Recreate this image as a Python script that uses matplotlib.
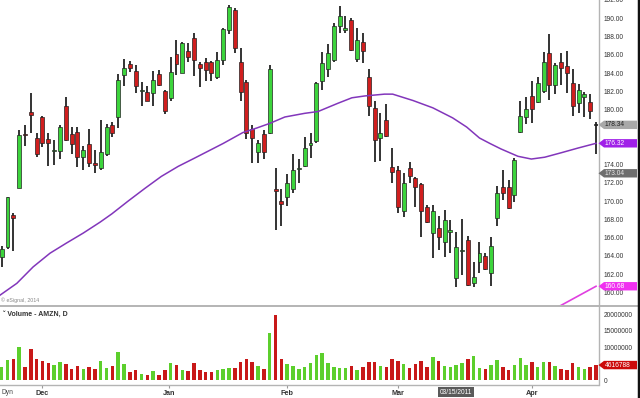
import matplotlib
matplotlib.use('Agg')
import matplotlib.pyplot as plt
from matplotlib.patches import Polygon
from matplotlib.lines import Line2D
import numpy as np

plt.rcParams['font.family'] = ['Liberation Sans', 'DejaVu Sans']

# ---------------- data ----------------
opens = [163.9,165.0,168.5,171.4,177.3,179.8,176.9,179.2,176.8,175.5,
         175.5,180.4,177.3,177.6,174.8,176.2,174.2,173.6,175.1,178.3,
         179.2,183.8,185.0,184.2,182.0,181.9,181.8,183.9,182.0,181.3,
         186.1,184.0,186.4,187.8,185.0,185.2,185.2,183.6,185.4,188.7,
         190.9,185.2,183.0,177.9,175.4,177.3,177.4,171.3,170.0,170.4,
         171.3,173.5,173.8,176.1,176.6,183.1,184.4,185.4,189.2,188.7,
         189.8,185.5,187.4,183.6,180.2,176.9,178.9,173.7,173.4,168.9,
         173.6,172.5,171.9,169.3,166.5,167.0,165.5,166.6,161.6,164.5,
         165.7,161.0,163.3,164.0,162.1,168.1,171.5,171.5,170.7,177.6,
         179.2,181.5,180.8,182.0,186.2,182.7,185.2,184.8,182.9,180.7,
         181.4,180.8,178.34]
highs = [165.1,170.5,168.7,177.8,178.3,181.8,177.5,179.3,177.4,176.7,
         178.3,181.4,178.1,178.1,176.0,177.9,175.6,178.9,178.4,178.6,
         183.9,185.5,185.3,184.9,183.0,182.6,184.2,184.3,182.2,185.8,
         187.6,187.4,187.3,188.4,185.2,185.7,185.3,186.3,188.9,191.5,
         191.1,186.7,183.2,178.3,176.7,177.8,184.9,173.6,171.3,173.0,
         175.1,174.6,177.0,177.4,183.0,186.3,187.2,189.5,191.3,190.3,
         190.0,188.9,188.4,184.5,181.0,179.6,180.6,175.8,173.8,173.1,
         174.3,172.6,172.0,169.6,169.6,168.4,169.0,167.9,166.6,168.0,
         166.2,163.3,165.5,164.3,166.1,171.7,173.4,172.3,174.7,181.0,
         181.4,183.1,183.6,186.3,188.3,185.1,186.2,186.4,184.4,182.8,
         181.9,181.7,178.6]
lows = [162.8,164.8,164.5,171.4,176.0,177.5,174.8,175.9,173.8,173.9,
        174.6,176.6,175.1,173.7,173.4,173.7,173.1,173.4,174.9,177.0,
        178.0,182.6,184.1,181.8,180.4,180.9,180.4,182.6,179.5,181.0,
        183.8,184.0,185.2,183.7,182.5,183.1,183.1,183.4,184.9,188.3,
        186.2,180.9,176.8,174.2,174.2,174.6,177.3,166.8,167.3,169.5,
        170.9,172.0,173.7,174.7,176.4,182.2,183.6,185.2,188.4,188.4,
        186.4,185.2,185.1,179.3,174.3,174.4,177.0,172.0,168.7,168.3,
        172.0,169.3,166.1,167.6,163.8,164.6,163.9,164.3,160.6,161.9,
        160.7,160.6,162.1,162.5,160.7,167.3,170.1,169.1,169.9,177.5,
        178.4,178.5,180.7,181.8,181.1,181.7,182.7,181.8,179.3,179.6,
        179.2,179.0,175.2]
closes = [164.8,170.4,168.1,177.2,177.2,179.4,175.2,176.4,176.4,175.6,
          178.1,176.7,176.2,174.8,175.6,174.2,173.9,175.4,178.1,177.5,
          183.2,184.6,184.6,182.6,182.1,181.0,183.2,182.7,179.9,184.1,
          185.0,187.3,185.8,185.4,184.6,184.3,184.0,185.4,188.8,191.2,
          186.8,181.9,177.5,176.9,176.4,175.4,184.4,171.1,169.7,172.0,
          173.4,173.6,175.8,176.3,182.9,185.1,186.2,189.2,190.3,188.9,
          186.5,187.6,186.4,180.4,176.7,177.5,177.1,173.2,169.3,172.0,
          172.7,171.5,168.9,167.7,168.9,166.1,167.9,166.8,165.0,164.6,
          160.8,161.7,164.3,162.6,165.1,170.9,170.9,169.2,174.5,179.3,
          180.1,180.1,182.9,185.2,182.7,184.9,184.6,184.0,180.4,182.2,
          181.7,179.9,178.34]
volumes_m = [4.1,6.0,6.4,10.0,4.1,9.6,6.6,5.7,5.2,4.7,
             5.5,4.9,3.4,4.3,3.3,3.9,3.4,5.7,3.8,4.3,
             8.5,4.9,2.4,3.1,2.0,1.7,2.9,1.7,3.1,5.2,
             4.7,3.0,2.9,5.2,3.0,2.6,2.4,3.1,3.5,3.6,
             3.6,5.5,6.5,5.5,4.4,3.4,14.4,19.8,6.5,4.9,
             4.3,3.4,4.1,5.2,7.6,8.2,5.2,4.1,3.8,3.6,
             4.4,3.1,3.9,5.5,5.4,4.4,4.1,6.6,5.7,4.9,
             3.8,4.8,5.9,4.1,7.0,5.9,4.4,3.9,4.7,5.2,
             6.4,7.3,3.8,3.3,4.6,6.2,4.1,3.1,4.7,6.8,
             4.6,5.5,4.1,5.5,5.4,4.4,3.5,3.2,5.2,4.0,
             3.3,4.1,4.616788]

# moving average (purple) read at bar positions
ma_idx = [-0.3, 2.6, 5.4, 8.3, 11.1, 14.0, 16.9, 18.9, 21.7, 24.6, 27.4, 30.3, 33.1,
          38.0, 41.4, 43.8, 46.0, 48.6, 52.0, 54.3, 57.7, 60.1, 62.3, 65.7, 67.1,
          70.6, 74.0, 77.4, 79.8, 82.0, 83.8, 85.7, 88.6, 90.9, 93.2, 96.1, 98.9, 102]
ma_val = [159.7, 161.0, 162.8, 164.3, 165.4, 166.5, 167.7, 168.6, 170.0, 171.4, 172.7, 173.8, 174.7,
          176.3, 177.5, 178.0, 178.5, 179.2, 179.6, 179.8, 180.7, 181.3, 181.5, 181.7, 181.7,
          181.0, 180.2, 179.1, 178.1, 176.9, 176.3, 175.7, 174.9, 174.6, 174.8, 175.3, 175.8, 176.32]
# second (magenta) average, only visible bottom right
ma2_idx = [92, 102]
ma2_val = [157.2, 160.68]

month_labels = ['Dec', 'Jan', 'Feb', 'Mar', 'Apr']
month_idx = [7, 28.7, 49, 68, 91]
price_ticks = [160, 162, 164, 166, 168, 170, 172, 174, 180, 182, 184, 186, 188, 190, 192]
vol_ticks = [0, 10000000, 15000000, 20000000]

last_price = 178.34
ma_last = 176.32
ref_level = 173.04
ma2_last = 160.68
last_vol = 4616788
cross_idx = 78
cross_label = '03/15/2011'

# ---------------- figure ----------------
W, H = 640, 398
fig = plt.figure(figsize=(W / 100, H / 100), dpi=100)
fig.patch.set_facecolor('white')
ax = fig.add_axes([0, 1 - 306 / H, 598 / W, 306 / H])
axv = fig.add_axes([0, 1 - 385 / H, 598 / W, (385 - 307) / H])

o = np.array(opens); hi = np.array(highs); lo = np.array(lows); c = np.array(closes)
x = np.arange(len(o))
GREEN = '#3cd43c'
RED = '#d01e1e'
up = c > o
doji = np.isclose(c, o)
body_col = np.where(doji, '#111111', np.where(up, GREEN, RED))

ax.vlines(x, lo, hi, color='#111111', lw=1.2, zorder=2)
bottoms = np.minimum(o, c)
heights = np.maximum(np.abs(c - o), 0.12)
ax.bar(x, heights, 0.68, bottom=bottoms, color=body_col, edgecolor='#222222',
       linewidth=0.5, zorder=3)

ax.plot(ma_idx, ma_val, color='#8236bb', lw=1.1, zorder=4)
ax.plot(ma2_idx, ma2_val, color='#e040e0', lw=1.2, zorder=4)

xlim = (-0.29, 102.34)
ax.set_xlim(*xlim)
ax.set_ylim(158.52, 192.0)
ax.set_xticks([])
ax.yaxis.tick_right()
ax.set_yticks(price_ticks)
ax.set_yticklabels([f'{t:.2f}' for t in price_ticks])
ax.tick_params(axis='y', length=0, pad=4, labelsize=4.8, labelcolor='#333333')
for s in ax.spines.values():
    s.set_visible(False)

vcol = np.where(up, '#5ccf2c', '#c81818')
axv.bar(x, np.array(volumes_m) * 1e6, 0.6, color=vcol, zorder=2)
axv.set_xlim(*xlim)
axv.set_ylim(-1.42e6, 22.2e6)
axv.yaxis.tick_right()
axv.set_yticks(vol_ticks)
axv.set_yticklabels([f'{t:d}' for t in vol_ticks])
axv.tick_params(axis='y', length=0, pad=4, labelsize=4.8, labelcolor='#333333')
axv.set_xticks(month_idx)
axv.set_xticklabels(month_labels)
axv.tick_params(axis='x', length=2, color='#999999', pad=1.5, labelsize=5.2,
                labelcolor='#333333')
for lab in axv.get_xticklabels():
    lab.set_fontweight('bold')
for s in axv.spines.values():
    s.set_visible(False)

# frame lines
def fline(x0, y0, x1, y1, color, lw):
    fig.add_artist(Line2D([x0 / W, x1 / W], [1 - y0 / H, 1 - y1 / H], color=color, lw=lw,
                          transform=fig.transFigure, zorder=3))

fline(0, 306, W, 306, '#b4b4b4', 1.4)
fline(0, 385, 598, 385, '#b4b4b4', 1.0)
fline(598.5, 0, 598.5, 385, '#b4b4b4', 1.0)
fline(638.5, 0, 638.5, H, '#111111', 2.5)

# value tags
def tag(axis, value, text, fc, tc):
    ypix = axis.transData.transform((0, value))[1]
    yf = ypix / (H)
    h = 4.2 / H
    x0, x1, x2 = 598.5 / W, 604 / W, 637 / W
    poly = Polygon([[x0, yf], [x1, yf + h], [x2, yf + h], [x2, yf - h], [x1, yf - h]],
                   closed=True, transform=fig.transFigure, fc=fc, ec='none', zorder=5)
    fig.add_artist(poly)
    fig.text(605 / W, yf, text, ha='left', va='center', fontsize=4.8, color=tc, zorder=6)

tag(ax, last_price, f'{last_price:.2f}', '#a8a8a8', '#222222')
tag(ax, ma_last, f'{ma_last:.2f}', '#a020e8', 'white')
tag(ax, ref_level, f'{ref_level:.2f}', '#6e6e6e', '#e8e8e8')
tag(ax, ma2_last, f'{ma2_last:.2f}', '#f030f0', 'white')
tag(axv, last_vol, f'{last_vol:d}', '#cc0a0a', 'white')

# texts
fig.text(1 / W, 1 - 300 / H, '\u00a9 eSignal, 2014', fontsize=3.8, color='#888888',
         va='center', ha='left')
fig.text(3 / W, 1 - 314 / H, '\u02c7 Volume - AMZN, D', fontsize=5, color='#333333',
         va='center', ha='left', fontweight='bold')
fig.text(1 / W, 1 - 392 / H, 'Dyn', fontsize=4.8, color='#444444', va='center', ha='left')

xc_pix = ax.transData.transform((cross_idx, 170))[0]
fig.text(xc_pix / W, 1 - 392 / H, cross_label, fontsize=4.8, color='white', va='center',
         ha='center', bbox=dict(boxstyle='square,pad=0.25', fc='#5a5a5a', ec='none'),
         zorder=6)

fig.savefig('out.png', dpi=100, facecolor='white')
